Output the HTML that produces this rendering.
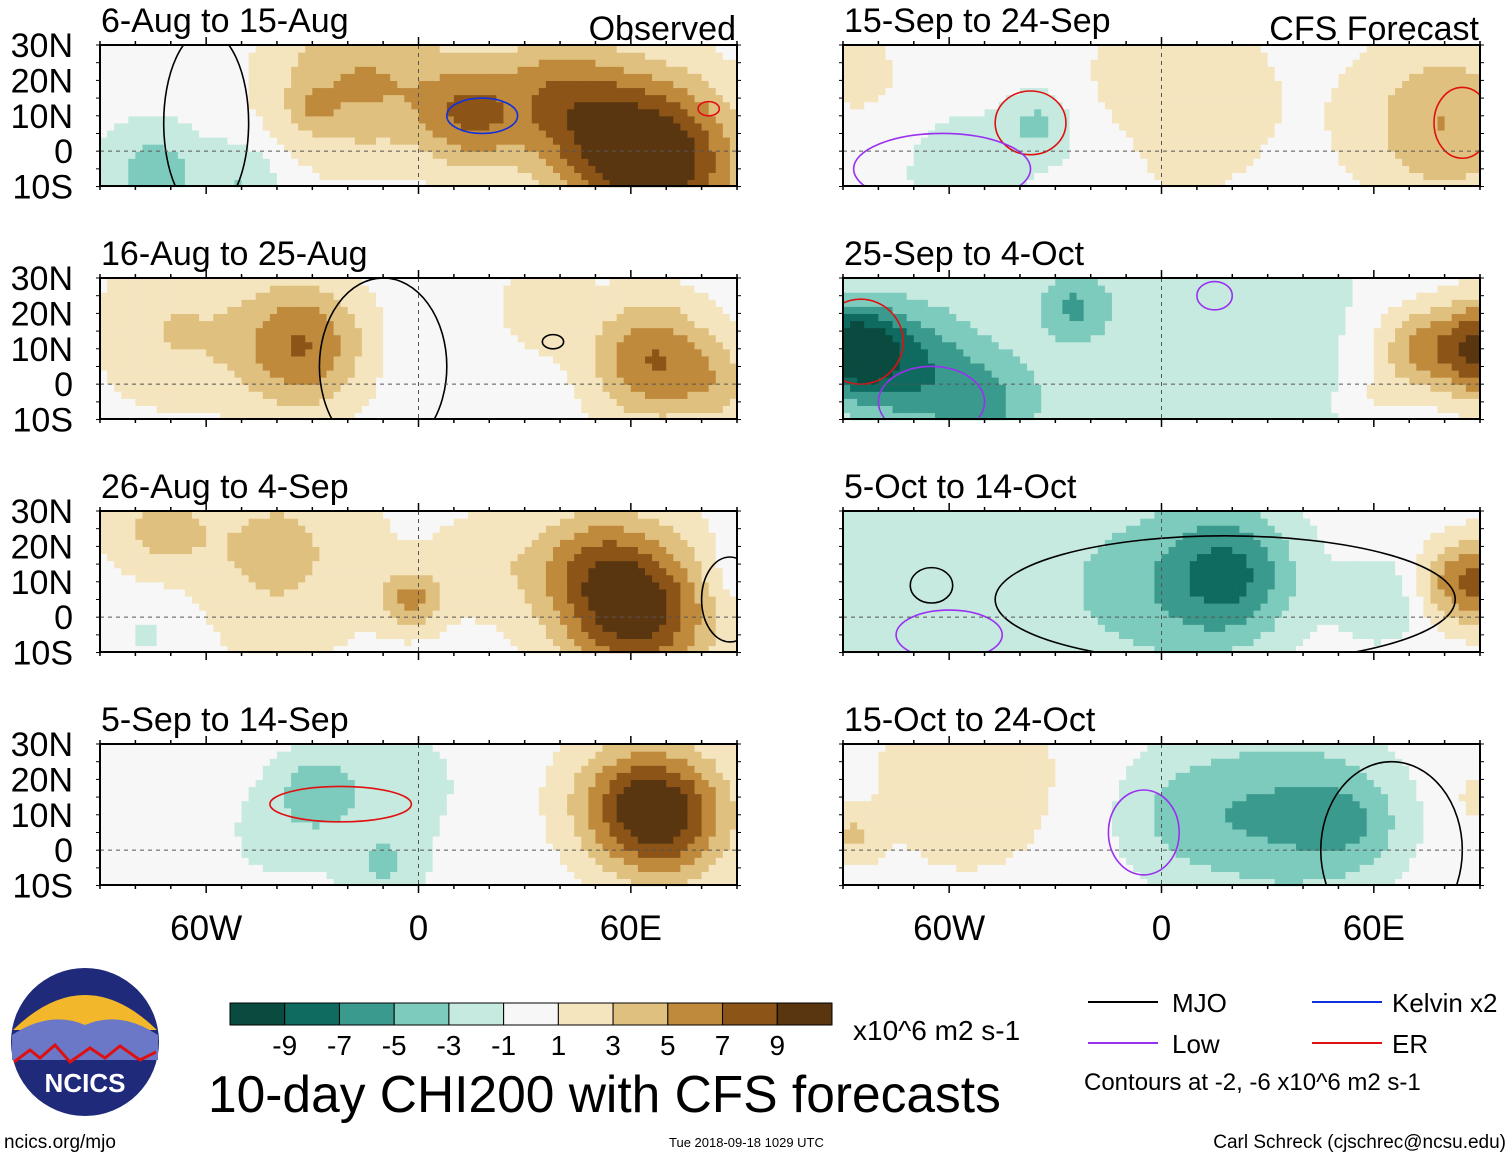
<!DOCTYPE html>
<html><head><meta charset="utf-8">
<style>
body{margin:0;background:#fff;font-family:"Liberation Sans",sans-serif;}
svg text{font-family:"Liberation Sans",sans-serif;}
</style></head>
<body>
<svg id="chart" width="1510" height="1158" xmlns="http://www.w3.org/2000/svg">
<rect width="1510" height="1158" fill="#fff"/>
<g id="panels"></g>
<g id="legend">
  <g>
    <circle cx="85" cy="1042" r="74" fill="#1f2a7a"/>
    <path d="M13 1030 Q85 960 157 1030 Z" fill="#f2b72a"/>
    <path d="M12 1035 Q50 1010 85 1025 Q120 1010 158 1035 L158 1060 L12 1060Z" fill="#6b78c8"/>
    <path d="M14 1062 L30 1050 L40 1058 L55 1045 L70 1062 L90 1048 L105 1058 L120 1046 L140 1060 L156 1052" stroke="#d11" stroke-width="3" fill="none"/>
    <text x="85" y="1092" font-size="26" font-weight="bold" fill="#fff" text-anchor="middle">NCICS</text>
  </g>
  <g id="cbar"></g>
  <text x="853" y="1040" font-size="28">x10^6 m2 s-1</text>
  <text x="208" y="1112" font-size="51.5">10-day CHI200 with CFS forecasts</text>
  <line x1="1088" y1="1002" x2="1158" y2="1002" stroke="#000" stroke-width="2"/>
  <text x="1172" y="1012" font-size="26">MJO</text>
  <line x1="1088" y1="1043" x2="1158" y2="1043" stroke="#9a30f0" stroke-width="2"/>
  <text x="1172" y="1053" font-size="26">Low</text>
  <line x1="1312" y1="1002" x2="1382" y2="1002" stroke="#1030e0" stroke-width="2"/>
  <text x="1392" y="1012" font-size="26">Kelvin x2</text>
  <line x1="1312" y1="1043" x2="1382" y2="1043" stroke="#e01010" stroke-width="2"/>
  <text x="1392" y="1053" font-size="26">ER</text>
  <text x="1084" y="1090" font-size="24">Contours at -2, -6 x10^6 m2 s-1</text>
  <text x="4" y="1148" font-size="19">ncics.org/mjo</text>
  <text x="669" y="1147" font-size="13">Tue 2018-09-18 1029 UTC</text>
  <text x="1506" y="1148" font-size="19" text-anchor="end">Carl Schreck (cjschrec@ncsu.edu)</text>
</g>
</svg>
<script>
const levels=[-9,-7,-5,-3,-1,1,3,5,7,9];
const colors=["#0a4b40","#0f6b5f","#3b9a8e","#7dcbbd","#c6eadf","#f7f7f7","#f5e5bf","#e0c07e","#c08a3c","#8c5417","#5a3610"];
const titles=["6-Aug to 15-Aug","16-Aug to 25-Aug","26-Aug to 4-Sep","5-Sep to 14-Sep","15-Sep to 24-Sep","25-Sep to 4-Oct","5-Oct to 14-Oct","15-Oct to 24-Oct"];
const lonTicks=[-60,0,60];
const lonLabels=["60W","0","60E"];
const latTicks=[30,20,10,0,-10];
const latLabels=["30N","20N","10N","0","10S"];
// blobs: [lon, lat, amplitude, sigma(deg)]
const blobs0=[[68,-3,11,16],[45,10,6,14],[15,10,6,10],[-25,18,3.5,15],[-30,12,2,4],[-5,20,3,15],[-75,-6,-4,10],[-50,-8,-3,8],[35,22,2,10]];
const blobs1=[[-33,11,7,13],[-70,15,3,15],[66,7,7,12],[85,0,3,8],[35,22,2.5,9],[5,8,-0.8,12]];
const blobs2=[[62,2,10,15],[48,15,4,12],[-2,5,5,6],[-40,18,3.5,20],[-75,25,3,10],[-75,-3,-1.5,10],[20,15,2,12],[88,12,-1.5,7]];
const blobs3=[[69,10,10,13],[55,15,3,12],[-28,17,-4,8],[-10,-5,-3,8],[-5,18,-2,12],[-40,5,-1.5,12]];
const blobs4=[[80,8,5,16],[-35,8,-3.5,7],[-55,-6,-2.5,12],[5,15,1.8,25],[-85,22,2,8],[-20,-5,-1,10]];
const blobs5=[[-88,10,-9,9],[-72,5,-6,13],[-50,-6,-4,10],[-25,22,-3.5,6],[0,10,-2.5,45],[92,10,10,10],[72,10,5,9],[60,-5,1.5,6]];
const blobs6=[[20,12,-6,13],[0,8,-3,20],[-55,15,-2.2,35],[62,5,-3,8],[92,10,7,9],[80,10,3,7]];
const blobs7=[[35,10,-5,18],[5,10,-3,13],[-55,20,2.2,20],[-87,4,3,5],[55,8,-3,10],[90,15,2,5]];
const fields=[blobs0,blobs1,blobs2,blobs3,blobs4,blobs5,blobs6,blobs7];
// ellipse contours: [lon, lat, rlon, rlat, color]
const contours0=[[18,10,10,5,"#1030e0"],[-60,8,12,26,"#000"],[82,12,3,2,"#e01010"]];
const contours1=[[-10,5,18,25,"#000"],[38,12,3,2,"#000"]];
const contours2=[[88,5,8,12,"#000"]];
const contours3=[[-22,13,20,5,"#e01010"]];
const contours4=[[-37,8,10,9,"#e01010"],[-62,-5,25,10,"#9a30f0"],[85,8,8,10,"#e01010"]];
const contours5=[[-85,12,12,12,"#e01010"],[-65,-5,15,10,"#9a30f0"],[15,25,5,4,"#9a30f0"]];
const contours6=[[18,5,65,18,"#000"],[-65,9,6,5,"#000"],[-60,-5,15,7,"#9a30f0"]];
const contours7=[[65,0,20,25,"#000"],[-5,5,10,12,"#9a30f0"]];
const allContours=[contours0,contours1,contours2,contours3,contours4,contours5,contours6,contours7];

const NS="http://www.w3.org/2000/svg";
function mk(tag,attrs,parent){const e=document.createElementNS(NS,tag);for(const k in attrs)e.setAttribute(k,attrs[k]);parent.appendChild(e);return e;}
function colorFor(v){let i=0;while(i<levels.length&&v>=levels[i])i++;return colors[i];}
const panelW=637,panelH=141,pxDeg=panelW/180;
const colX=[100,843],rowY=[45,278,511,744];
const root=document.getElementById('panels');
for(let p=0;p<8;p++){
  const x0=colX[p<4?0:1],y0=rowY[p%4];
  const xs=lon=>x0+(lon+90)*pxDeg, ys=lat=>y0+(30-lat)*pxDeg;
  const g=mk('g',{},root);
  
  
  const step=2;
  for(let lon=-90;lon<90;lon+=step){for(let lat=-10;lat<30;lat+=step){
    const cl=lon+step/2,ca=lat+step/2;let v=0;
    for(const b of fields[p]){const d2=(cl-b[0])**2+(ca-b[1])**2;v+=b[2]*Math.exp(-d2/(2*b[3]*b[3]));}
    const r=mk('rect',{x:xs(lon).toFixed(2),y:ys(lat+step).toFixed(2),width:(step*pxDeg+0.6).toFixed(2),height:(step*pxDeg+0.6).toFixed(2),fill:colorFor(v)},g);
    
    
  }}
  const cp=mk('clipPath',{id:'cp'+p},g);mk('rect',{x:x0,y:y0,width:panelW,height:panelH},cp);
  const cg=mk('g',{'clip-path':'url(#cp'+p+')'},g);
  for(const c of allContours[p]){
    const e=mk('ellipse',{cx:xs(c[0]),cy:ys(c[1]),rx:c[2]*pxDeg,ry:c[3]*pxDeg,fill:'none',stroke:c[4],'stroke-width':1.6},cg);
    
    
  }
  mk('line',{x1:x0,x2:x0+panelW,y1:ys(0),y2:ys(0),stroke:'#555','stroke-dasharray':'4,4','stroke-width':1},g);
  mk('line',{x1:xs(0),x2:xs(0),y1:y0,y2:y0+panelH,stroke:'#555','stroke-dasharray':'4,4','stroke-width':1},g);
  mk('rect',{x:x0,y:y0,width:panelW,height:panelH,fill:'none',stroke:'#000','stroke-width':2},g);
  for(let lon=-90;lon<=90;lon+=10){const L=lonTicks.includes(lon)?8:4;
    mk('line',{x1:xs(lon),x2:xs(lon),y1:y0,y2:y0-L,stroke:'#000','stroke-width':1.5},g);
    mk('line',{x1:xs(lon),x2:xs(lon),y1:y0+panelH,y2:y0+panelH+L,stroke:'#000','stroke-width':1.5},g);}
  for(let lat=-10;lat<=30;lat+=5){mk('line',{x1:x0,x2:x0-4,y1:ys(lat),y2:ys(lat),stroke:'#000'},g);mk('line',{x1:x0+panelW,x2:x0+panelW+4,y1:ys(lat),y2:ys(lat),stroke:'#000'},g);}
  const t=mk('text',{x:x0+1,y:y0-13,'font-size':34},g);t.textContent=titles[p];
  
  
  if(p==0||p==4){const s=mk('text',{x:x0+panelW-1,y:y0-5,'font-size':34,'text-anchor':'end'},g);s.textContent=p==0?'Observed':'CFS Forecast';
    
    }
  if(p<4){latTicks.forEach((lt,i)=>{const l=mk('text',{x:73,y:ys(lt)+12,'font-size':34,'text-anchor':'end'},g);l.textContent=latLabels[i];
    
    });}
  if(p%4==3){lonTicks.forEach((ln,i)=>{const l=mk('text',{x:xs(ln),y:940,'font-size':35,'text-anchor':'middle'},g);l.textContent=lonLabels[i];
    
    });}
}
const cb=document.getElementById('cbar');
const bw=(832-230)/colors.length;
colors.forEach((c,i)=>{const r=mk('rect',{x:230+i*bw,y:1003,width:bw,height:22,fill:c,stroke:'#000','stroke-width':1},cb);
  
  });
levels.forEach((lv,i)=>{const t=mk('text',{x:230+(i+1)*bw,y:1055,'font-size':28,'text-anchor':'middle'},cb);t.textContent=lv;
  
  });
</script>
</body></html>
